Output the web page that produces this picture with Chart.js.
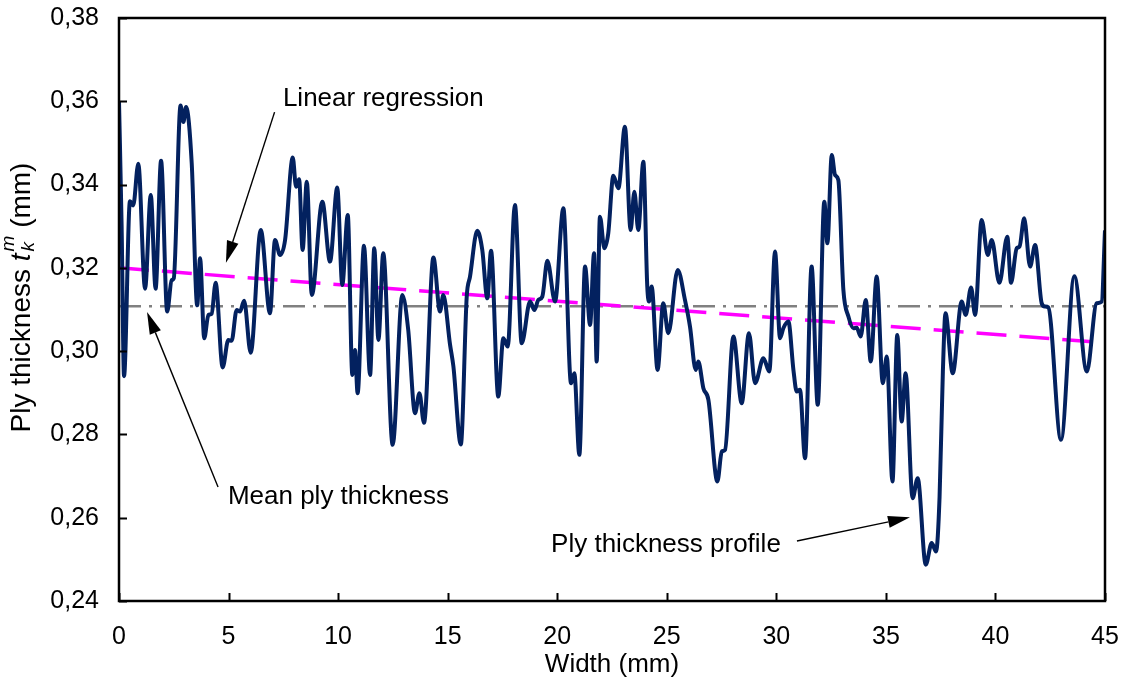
<!DOCTYPE html>
<html>
<head>
<meta charset="utf-8">
<script src="https://cdn.jsdelivr.net/npm/chart.js@4.4.1/dist/chart.umd.min.js"></script>
<style>
  html, body { margin: 0; padding: 0; background: #ffffff; }
  canvas { display: block; }
</style>
</head>
<body>
<canvas id="chart" width="1124" height="684"></canvas>
<script>
// Ply thickness measured across the specimen width
const widthMm = [
  0.00, 0.12, 0.23, 0.50, 0.65, 0.88, 1.19, 1.45, 1.67, 1.92,
  2.20, 2.40, 2.50, 2.81, 2.94, 3.06, 3.32, 3.57, 3.70, 3.89,
  4.08, 4.23, 4.41, 4.73, 4.99, 5.14, 5.37, 5.52, 5.71, 6.01,
  6.47, 6.89, 7.12, 7.35, 7.58, 7.93, 8.08, 8.22, 8.38, 8.57,
  8.80, 9.28, 9.63, 9.96, 10.19, 10.44, 10.65, 10.77, 10.89, 11.18,
  11.46, 11.65, 11.84, 12.06, 12.49, 12.93, 13.20, 13.51, 13.71, 13.92,
  14.35, 14.65, 14.80, 15.11, 15.26, 15.60, 15.87, 16.02, 16.35, 16.58,
  16.81, 16.98, 17.31, 17.54, 17.74, 18.07, 18.38, 18.76, 18.96, 19.14,
  19.32, 19.55, 19.90, 20.28, 20.63, 20.78, 21.01, 21.27, 21.50, 21.68,
  21.80, 21.95, 22.15, 22.33, 22.56, 22.79, 23.09, 23.35, 23.52, 23.70,
  23.93, 24.11, 24.19, 24.31, 24.58, 24.84, 25.07, 25.50, 25.83, 26.06,
  26.32, 26.44, 26.67, 26.90, 27.31, 27.51, 27.66, 28.04, 28.42, 28.75,
  29.03, 29.41, 29.68, 29.94, 30.17, 30.32, 30.55, 30.78, 30.93, 31.08,
  31.31, 31.61, 31.89, 32.19, 32.33, 32.53, 32.68, 32.83, 33.06, 33.29,
  33.52, 33.67, 33.85, 34.08, 34.31, 34.58, 34.86, 35.04, 35.30, 35.52,
  35.72, 35.90, 36.22, 36.45, 36.82, 37.09, 37.29, 37.45, 37.60, 37.72,
  38.05, 38.46, 38.64, 38.89, 39.07, 39.37, 39.65, 39.83, 40.18, 40.54,
  40.71, 40.97, 41.10, 41.31, 41.58, 41.81, 42.11, 42.26, 42.41, 42.99,
  43.60, 44.17, 44.62, 44.85, 45.00
];
const plyThickness = [
  0.3600, 0.3300, 0.2940, 0.3360, 0.3350, 0.3450, 0.3150, 0.3375, 0.3150, 0.3457,
  0.3095, 0.3170, 0.3175, 0.3590, 0.3550, 0.3586, 0.3450, 0.3110, 0.3223, 0.3031,
  0.3087, 0.3090, 0.3164, 0.2961, 0.3027, 0.3025, 0.3099, 0.3095, 0.3121, 0.2996,
  0.3291, 0.3091, 0.3267, 0.3231, 0.3267, 0.3465, 0.3395, 0.3413, 0.3243, 0.3407,
  0.3135, 0.3359, 0.3215, 0.3393, 0.3159, 0.3327, 0.2943, 0.3003, 0.2899, 0.3253,
  0.2943, 0.3247, 0.3027, 0.3235, 0.2775, 0.3135, 0.3051, 0.2851, 0.2899, 0.2828,
  0.3225, 0.3095, 0.3135, 0.3015, 0.2964, 0.2776, 0.3131, 0.3179, 0.3289, 0.3243,
  0.3127, 0.3241, 0.2891, 0.3031, 0.3011, 0.3351, 0.3019, 0.3119, 0.3099, 0.3123,
  0.3131, 0.3217, 0.3119, 0.3343, 0.2923, 0.2947, 0.2751, 0.3203, 0.3063, 0.3235,
  0.2975, 0.3323, 0.3247, 0.3283, 0.3421, 0.3391, 0.3539, 0.3291, 0.3383, 0.3291,
  0.3455, 0.3155, 0.3119, 0.3155, 0.2955, 0.3115, 0.3043, 0.3195, 0.3123, 0.3059,
  0.2955, 0.2975, 0.2911, 0.2883, 0.2687, 0.2759, 0.2763, 0.3035, 0.2875, 0.3043,
  0.2923, 0.2983, 0.2951, 0.3239, 0.3031, 0.3055, 0.3071, 0.2955, 0.2903, 0.2907,
  0.2743, 0.3203, 0.2871, 0.3359, 0.3259, 0.3471, 0.3423, 0.3411, 0.3147, 0.3083,
  0.3055, 0.3056, 0.3035, 0.3123, 0.2975, 0.3179, 0.2923, 0.2987, 0.2687, 0.3039,
  0.2831, 0.2947, 0.2647, 0.2695, 0.2487, 0.2539, 0.2519, 0.2650, 0.2950, 0.3091,
  0.2947, 0.3119, 0.3087, 0.3153, 0.3087, 0.3315, 0.3231, 0.3267, 0.3164, 0.3275,
  0.3164, 0.3247, 0.3251, 0.3319, 0.3203, 0.3255, 0.3115, 0.3107, 0.3105, 0.2787,
  0.3180, 0.2951, 0.3115, 0.3119, 0.3290
];

// Linear regression of the profile and mean ply thickness
const regressionX = [0, 45];
const regressionY = [0.3200, 0.3020];
const meanX = [0, 45];
const meanY = [0.3108, 0.3108];

// Axis ticks
const xTicks = [0, 5, 10, 15, 20, 25, 30, 35, 40, 45];
const yTicks = [0.24, 0.26, 0.28, 0.30, 0.32, 0.34, 0.36, 0.38];

const FONT = '"Liberation Sans", Arial, Helvetica, sans-serif';
const toPoints = (xs, ys) => xs.map((x, i) => ({ x: x, y: ys[i] }));

// Callout labels with arrows, anchored in data coordinates
const callouts = [
  { text: 'Linear regression',      at: [7.48, 0.3605],  tail: [7.10, 0.3574], tip: [4.88, 0.3212] },
  { text: 'Mean ply thickness',     at: [4.97, 0.2650],  tail: [4.52, 0.2674], tip: [1.28, 0.3094] },
  { text: 'Ply thickness profile',  at: [19.72, 0.2534], tail: [30.94, 0.2544], tip: [36.10, 0.2601] }
];

const framePlugin = {
  id: 'frame',
  afterDatasetsDraw(chart) {
    const { ctx, chartArea: a, scales } = chart;
    ctx.save();
    ctx.strokeStyle = '#000000';
    ctx.lineWidth = 2;
    ctx.lineCap = 'butt';
    // inward tick marks
    ctx.beginPath();
    yTicks.forEach(v => {
      const y = Math.round(scales.y.getPixelForValue(v)) + 0.5;
      ctx.moveTo(a.left, y);
      ctx.lineTo(a.left + 8, y);
    });
    xTicks.forEach(v => {
      const x = Math.round(scales.x.getPixelForValue(v)) + 0.5;
      ctx.moveTo(x, a.bottom);
      ctx.lineTo(x, a.bottom - 8);
    });
    ctx.stroke();
    // plot frame
    ctx.lineWidth = 2.5;
    ctx.strokeRect(a.left, a.top, a.right - a.left, a.bottom - a.top);

    // callouts
    ctx.fillStyle = '#000000';
    ctx.font = '26px ' + FONT;
    ctx.textAlign = 'left';
    ctx.textBaseline = 'middle';
    callouts.forEach(c => {
      const px = v => scales.x.getPixelForValue(v);
      const py = v => scales.y.getPixelForValue(v);
      ctx.fillText(c.text, px(c.at[0]), py(c.at[1]));
      const x0 = px(c.tail[0]), y0 = py(c.tail[1]);
      const x1 = px(c.tip[0]),  y1 = py(c.tip[1]);
      const ang = Math.atan2(y1 - y0, x1 - x0);
      const headLen = 22, headHalf = 6;
      const bx = x1 - headLen * Math.cos(ang), by = y1 - headLen * Math.sin(ang);
      ctx.lineWidth = 1.4;
      ctx.beginPath();
      ctx.moveTo(x0, y0);
      ctx.lineTo(bx, by);
      ctx.stroke();
      ctx.beginPath();
      ctx.moveTo(x1, y1);
      ctx.lineTo(bx + headHalf * Math.sin(ang), by - headHalf * Math.cos(ang));
      ctx.lineTo(bx - headHalf * Math.sin(ang), by + headHalf * Math.cos(ang));
      ctx.closePath();
      ctx.fill();
    });

    // rotated y-axis title with italic t, subscript k and superscript m
    const cy = (a.top + a.bottom) / 2 - 12;
    ctx.translate(22, cy);
    ctx.rotate(-Math.PI / 2);
    const big = '28px ' + FONT, bigIt = 'italic 28px ' + FONT, small = 'italic 19px ' + FONT;
    ctx.font = big;
    const w1 = ctx.measureText('Ply thickness ').width;
    const w4 = ctx.measureText(' (mm)').width;
    ctx.font = bigIt;
    const w2 = ctx.measureText('t').width;
    ctx.font = small;
    const w3 = Math.max(ctx.measureText('k').width, ctx.measureText('m').width);
    const total = w1 + w2 + 2 + w3 + w4;
    let x = -total / 2;
    ctx.textAlign = 'left';
    ctx.textBaseline = 'middle';
    ctx.font = big;   ctx.fillText('Ply thickness ', x, 0); x += w1;
    ctx.font = bigIt; ctx.fillText('t', x, 0); x += w2 + 2;
    ctx.font = small;
    ctx.fillText('k', x, 7);
    ctx.fillText('m', x, -13);
    x += w3;
    ctx.font = big;   ctx.fillText(' (mm)', x, 0);
    ctx.restore();
  }
};

new Chart(document.getElementById('chart'), {
  type: 'line',
  data: {
    datasets: [
      {
        label: 'Ply thickness profile',
        data: toPoints(widthMm, plyThickness),
        borderColor: '#03215f',
        borderWidth: 4,
        pointRadius: 0,
        cubicInterpolationMode: 'monotone',
        fill: false,
        order: 0
      },
      {
        label: 'Linear regression',
        data: toPoints(regressionX, regressionY),
        borderColor: '#ff00ff',
        borderWidth: 3.5,
        borderDash: [30, 13],
        pointRadius: 0,
        fill: false,
        order: 1
      },
      {
        label: 'Mean ply thickness',
        data: toPoints(meanX, meanY),
        borderColor: '#808080',
        borderWidth: 2.5,
        borderDash: [22, 8, 3, 8],
        pointRadius: 0,
        fill: false,
        order: 2
      }
    ]
  },
  options: {
    responsive: false,
    animation: false,
    events: [],
    layout: { padding: { left: 0, top: 18, right: 19, bottom: 0 } },
    plugins: { legend: { display: false }, tooltip: { enabled: false } },
    scales: {
      x: {
        type: 'linear',
        min: 0,
        max: 45,
        grid: { display: false, drawTicks: false },
        border: { display: false },
        afterBuildTicks: s => { s.ticks = xTicks.map(v => ({ value: v })); },
        afterFit: s => { s.height = 83; s.paddingLeft = 0; s.paddingRight = 0; },
        ticks: {
          color: '#000000',
          font: { family: FONT, size: 25 },
          padding: 21,
          maxRotation: 0,
          callback: v => String(v)
        },
        title: {
          display: true,
          text: 'Width (mm)',
          color: '#000000',
          font: { family: FONT, size: 26 },
          padding: { top: 0, bottom: 4 }
        }
      },
      y: {
        type: 'linear',
        min: 0.24,
        max: 0.38,
        grid: { display: false, drawTicks: false },
        border: { display: false },
        afterBuildTicks: s => { s.ticks = yTicks.map(v => ({ value: v })); },
        afterFit: s => { s.width = 119; s.paddingTop = 0; s.paddingBottom = 0; },
        ticks: {
          color: '#000000',
          font: { family: FONT, size: 25 },
          padding: 20,
          callback: v => Number(v).toFixed(2).replace('.', ',')
        },
        title: { display: false }
      }
    }
  },
  plugins: [framePlugin]
});
</script>
</body>
</html>
